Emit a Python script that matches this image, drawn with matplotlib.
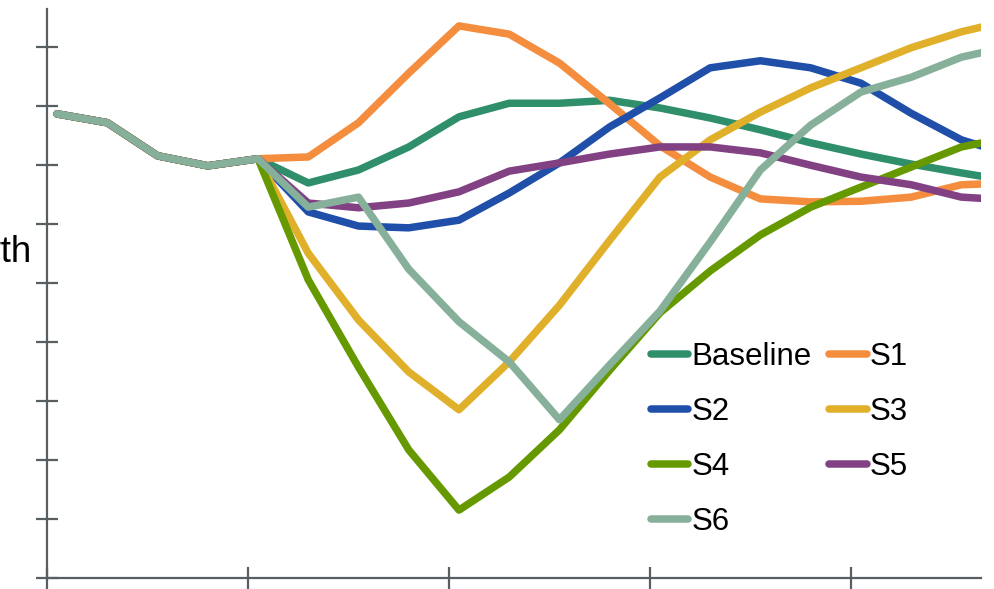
import matplotlib.pyplot as plt

plt.rcParams["font.family"] = ["Liberation Sans", "DejaVu Sans"]

# quarters shown (the picture is cropped, the last one runs off the right edge)
periods = list(range(20))

baseline = [2.86, 2.71, 2.15, 1.98, 2.10, 1.69, 1.91, 2.30, 2.81, 3.04,
            3.04, 3.09, 2.96, 2.79, 2.59, 2.37, 2.18, 2.01, 1.86, 1.72]
s1 = [2.86, 2.71, 2.15, 1.98, 2.10, 2.13, 2.71, 3.55, 4.35, 4.21,
      3.72, 3.03, 2.32, 1.79, 1.42, 1.37, 1.38, 1.45, 1.66, 1.69]
s2 = [2.86, 2.71, 2.15, 1.98, 2.10, 1.20, 0.96, 0.93, 1.06, 1.52,
      2.03, 2.64, 3.13, 3.64, 3.76, 3.64, 3.38, 2.87, 2.42, 2.16]
s3 = [2.86, 2.71, 2.15, 1.98, 2.10, 0.50, -0.63, -1.51, -2.15, -1.34,
      -0.38, 0.72, 1.79, 2.42, 2.89, 3.30, 3.64, 3.98, 4.25, 4.45]
s4 = [2.86, 2.71, 2.15, 1.98, 2.10, 0.05, -1.43, -2.83, -3.85, -3.29,
      -2.49, -1.48, -0.51, 0.20, 0.81, 1.28, 1.62, 1.96, 2.30, 2.47]
s5 = [2.86, 2.71, 2.15, 1.98, 2.10, 1.35, 1.27, 1.35, 1.54, 1.89,
      2.03, 2.18, 2.30, 2.30, 2.20, 1.99, 1.79, 1.66, 1.45, 1.40]
s6 = [2.86, 2.71, 2.15, 1.98, 2.10, 1.28, 1.45, 0.23, -0.66, -1.34,
      -2.32, -1.39, -0.48, 0.69, 1.91, 2.67, 3.23, 3.48, 3.82, 4.01]

names = ["Baseline", "S1", "S2", "S3", "S4", "S5", "S6"]
series = [baseline, s1, s2, s3, s4, s5, s6]
colors = ["#2f8f6a", "#f58d3e", "#1f4fa8", "#e0b02a", "#669900", "#824182", "#86b09a"]

fig = plt.figure(figsize=(9.95, 5.89), dpi=100)
ax = fig.add_axes([47 / 995, 11 / 589, 934 / 995, 569 / 589])

lines = {}
for name, vals, c in zip(names, series, colors):
    ln, = ax.plot(periods, vals, color=c, lw=5.4, solid_joinstyle="round",
                  solid_capstyle="round")
    lines[name] = ln

ax.set_xlim(-0.2, 18.39)
ax.set_ylim(-5, 4.636)
ax.set_xticks([-0.2, 3.8, 7.8, 11.8, 15.8])
ax.set_yticks(range(-5, 5))
ax.set_xticklabels([])
ax.set_yticklabels([])

spine_c = "#595e63"
for side in ["top", "right"]:
    ax.spines[side].set_visible(False)
for side in ["left", "bottom"]:
    ax.spines[side].set_color(spine_c)
    ax.spines[side].set_linewidth(1.6)
ax.tick_params(direction="inout", length=15.5, width=1.6, color=spine_c)

# column-major fill: Baseline S2 S4 S6 | S1 S3 S5
order = ["Baseline", "S2", "S4", "S6", "S1", "S3", "S5"]
ax.legend([lines[n] for n in order], order, ncol=2, frameon=False,
          loc="upper left", bbox_to_anchor=(651 / 995, 1 - 342 / 589),
          bbox_transform=fig.transFigure, fontsize=22.5, borderpad=0,
          borderaxespad=0, handlelength=1.2, handletextpad=0.1,
          columnspacing=0.55, labelspacing=0.8)

# y-axis title, only its tail is inside the picture
fig.text(31 / 995, 1 - 262 / 589, "Growth", ha="right", va="baseline",
         fontsize=26.5)

fig.savefig("out.png", dpi=100)
